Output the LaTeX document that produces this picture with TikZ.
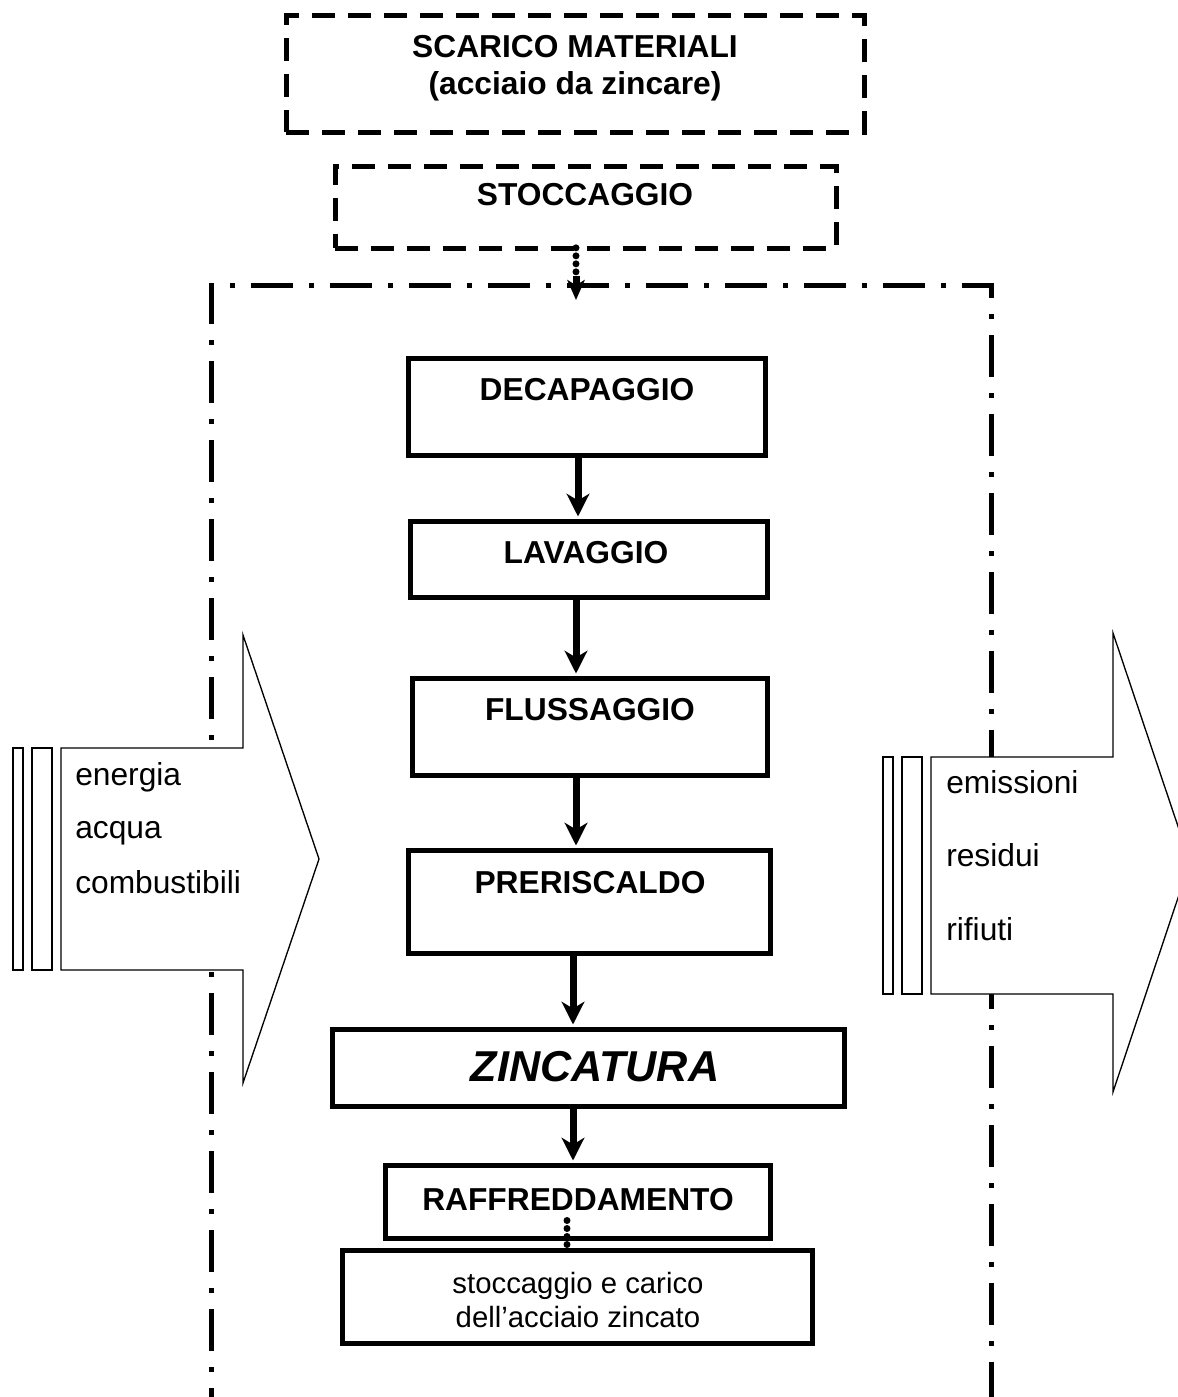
\documentclass[tikz,border=0pt]{standalone}
\usepackage{fontspec}
\setmainfont{Liberation Sans}
\usetikzlibrary{arrows.meta,fit}
\begin{document}
\begin{tikzpicture}[x=0.75pt,y=-0.75pt,
  dashbox/.style={draw, line width=3.75pt, dash pattern=on 17pt off 10pt, inner sep=0pt},
  procbox/.style={draw, line width=3.75pt, inner sep=0pt},
  lbl/.style={font=\fontsize{23.8}{27.75}\selectfont\bfseries, inner sep=0pt, align=center},
  flow/.style={line width=5.25pt, shorten >=1.5pt, -{Stealth[length=17pt,width=17pt,inset=5pt]}},
  dotline/.style={line width=5.25pt, line cap=round, dash pattern=on 0pt off 6pt},
  frameline/.style={line width=3.75pt, dash pattern=on 31.5pt off 12pt on 3.75pt off 12pt},
  sidebox/.style={draw, line width=1pt, fill=white},
  sidetxt/.style={font=\fontsize{23.8}{28}\selectfont, anchor=base west, inner sep=0pt}]

\useasboundingbox (0,0) rectangle (1178,1397);
\clip (0,0) rectangle (1178,1397);

% dash-dot frame
\coordinate (fbl) at (211,1430);
\coordinate (ftl) at (211,285);
\coordinate (ftr) at (991,285);
\coordinate (fbr) at (991,1430);
\draw[frameline] (fbl) -- (ftl) -- (ftr) -- (fbr);

% left input arrow
\draw[sidebox] (61,748) -- (243,748) -- (243,635) -- (319,859) -- (243,1083) -- (243,970) -- (61,970) -- cycle;
\draw[sidebox] (13,748) rectangle (23,970);
\draw[sidebox] (32,748) rectangle (52,970);
\node[sidetxt] (en) at (75,785) {energia};
\node[sidetxt] (ac) at (75,838) {acqua};
\node[sidetxt] (co) at (75,893) {combustibili};

% right output arrow
\draw[sidebox] (931,757) -- (1113,757) -- (1113,633) -- (1190,862) -- (1113,1092) -- (1113,994) -- (931,994) -- cycle;
\draw[sidebox] (883,757) rectangle (893,994);
\draw[sidebox] (902,757) rectangle (922,994);
\node[sidetxt] (em) at (946,793) {emissioni};
\node[sidetxt] (re) at (946,866) {residui};
\node[sidetxt] (ri) at (946,940) {rifiuti};

% dashed boxes
\node[dashbox, fit={(286,15) (864,132)}] (scar) {};
\node[lbl] (scarT) at (575,68) {SCARICO MATERIALI\\(acciaio da zincare)};
\node[dashbox, fit={(335,166) (836,248)}] (stoc) {};
\node[lbl] (stocT) at (585,195) {STOCCAGGIO};

% process boxes
\node[procbox, fit={(408,358) (765,455)}] (decap) {};
\node[lbl] (decapT) at (587,390) {DECAPAGGIO};
\node[procbox, fit={(410,521) (767,597)}] (lav) {};
\node[lbl] (lavT) at (586,553) {LAVAGGIO};
\node[procbox, fit={(412,678) (767,775)}] (fluss) {};
\node[lbl] (flussT) at (590,710) {FLUSSAGGIO};
\node[procbox, fit={(408,850) (770,953)}] (preri) {};
\node[lbl] (preriT) at (590,883) {PRERISCALDO};
\node[procbox, fit={(332,1029) (844,1106)}] (zinc) {};
\node[lbl, font=\fontsize{32.4}{36}\selectfont\bfseries\itshape] (zincT) at (595,1067) {ZINCATURA};
\node[procbox, fit={(385,1165) (770,1238)}] (raff) {};
\node[lbl] (raffT) at (578,1200) {RAFFREDDAMENTO};
\node[procbox, fit={(342,1250) (812,1343)}] (stfin) {};
\node[font=\fontsize{22}{25.5}\selectfont, align=center, inner sep=0pt] (stfinT) at (578,1300) {stoccaggio e carico\\dell’acciaio zincato};

% connectors
\coordinate (ax0) at (576,0);
\coordinate (ax1) at (578,0);
\coordinate (ax2) at (576,0);
\coordinate (ax3) at (573,0);
\coordinate (ax4) at (567,0);
\coordinate (dotend) at (576,300);
\draw[dotline] ([yshift=2pt]stoc.south -| ax0) -- ([yshift=17pt]dotend);
\draw[line width=5.25pt, -{Stealth[length=15pt,width=13pt,inset=4pt]}] ([yshift=18pt]dotend) -- (dotend);
\draw[flow] (decap.south -| ax1) -- (lav.north -| ax1);
\draw[flow] (lav.south -| ax2) -- (fluss.north -| ax2);
\draw[flow] (fluss.south -| ax2) -- (preri.north -| ax2);
\draw[flow] (preri.south -| ax3) -- (zinc.north -| ax3);
\draw[flow] (zinc.south -| ax3) -- (raff.north -| ax3);
\draw[dotline] ([yshift=15pt]raff.south -| ax4) -- (ax4 |- stfin.north);
\end{tikzpicture}
\end{document}
